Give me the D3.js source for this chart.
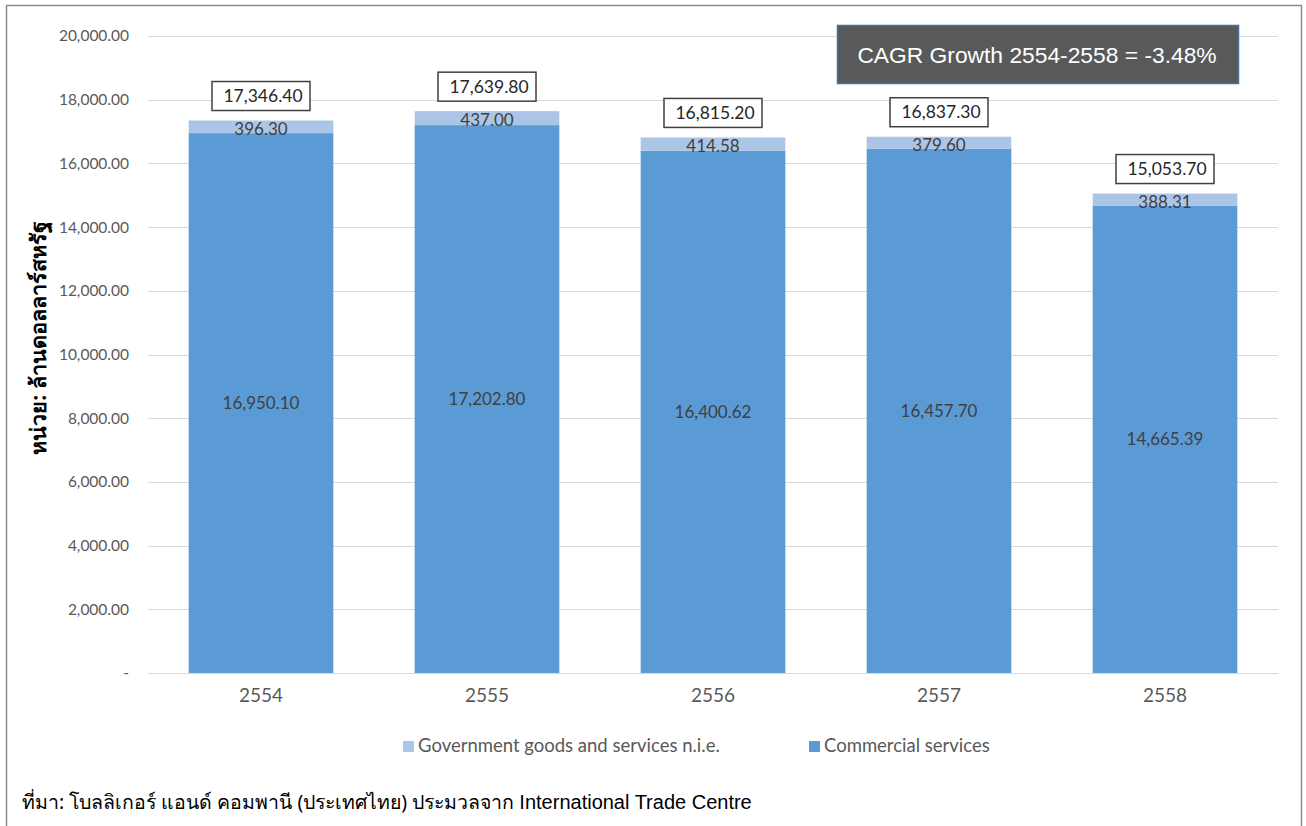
<!DOCTYPE html>
<html>
<head>
<meta charset="utf-8">
<script src="https://cdn.jsdelivr.net/npm/d3@7"></script>
<style>
  body { margin: 0; background: #fff; }
  svg { display: block; }
</style>
</head>
<body>
<svg id="chart" width="1306" height="826"></svg>
<script>
const width = 1306;
const height = 826;
const svg = d3.select("#chart");

// data
const years = ["2554", "2555", "2556", "2557", "2558"];
const govValues = [396.30, 437.00, 414.58, 379.60, 388.31];
const comValues = [16950.10, 17202.80, 16400.62, 16457.70, 14665.39];
const yTicks = [0, 2000, 4000, 6000, 8000, 10000, 12000, 14000, 16000, 18000, 20000];
const seriesNames = ["Government goods and services n.i.e.", "Commercial services"];
const cagrText = "CAGR Growth 2554-2558 = -3.48%";

const colGov = "#abc5e6";
const colCom = "#5b9bd5";
const numFont = "Lato, 'Open Sans', sans-serif";

const margin = { left: 148, right: 28, top: 36, bottom: 153 };
const x = d3.scaleBand().domain(years)
    .range([margin.left, width - margin.right])
    .paddingInner(0.36).paddingOuter(0.18);
const y = d3.scaleLinear().domain([0, 20000]).range([height - margin.bottom, margin.top]);

const fmt = d3.format(",.2f");

// outer frame
svg.append("rect")
    .attr("x", 6.5).attr("y", 5.5)
    .attr("width", 1295).attr("height", 830)
    .attr("fill", "none").attr("stroke", "#8c8c8c").attr("stroke-width", 1.5);

// gridlines
svg.append("g").selectAll("line")
    .data(yTicks)
    .enter().append("line")
    .attr("x1", margin.left).attr("x2", width - margin.right)
    .attr("y1", d => Math.round(y(d)) + 0.5).attr("y2", d => Math.round(y(d)) + 0.5)
    .attr("stroke", "#d9d9d9").attr("stroke-width", 1);

// y axis
const yAxis = svg.append("g")
    .attr("transform", `translate(${margin.left - 16},0)`)
    .call(d3.axisLeft(y).tickValues(yTicks).tickSize(0)
        .tickFormat(d => d === 0 ? "-" : fmt(d)));
yAxis.select(".domain").remove();
yAxis.selectAll("text")
    .attr("font-family", numFont).attr("font-size", 15.5)
    .attr("fill", "#595959");

// x axis
const xAxis = svg.append("g")
    .attr("transform", `translate(0,${y(0)})`)
    .call(d3.axisBottom(x).tickSize(0).tickPadding(16));
xAxis.select(".domain").remove();
xAxis.selectAll("text")
    .attr("font-family", numFont).attr("font-size", 19).attr("fill", "#595959");

// bars (stacked: commercial below, government on top)
const bars = svg.append("g");
years.forEach((yr, i) => {
    const c = comValues[i], g = govValues[i];
    bars.append("rect")
        .attr("x", x(yr)).attr("width", x.bandwidth())
        .attr("y", y(c)).attr("height", y(0) - y(c))
        .attr("fill", colCom);
    bars.append("rect")
        .attr("x", x(yr)).attr("width", x.bandwidth())
        .attr("y", y(c + g)).attr("height", y(c) - y(c + g))
        .attr("fill", colGov);
});

// labels
const labels = svg.append("g").attr("font-family", numFont).attr("text-anchor", "middle");
years.forEach((yr, i) => {
    const c = comValues[i], g = govValues[i], t = c + g;
    const cx = x(yr) + x.bandwidth() / 2;
    labels.append("text")
        .attr("x", cx).attr("y", y(c / 2)).attr("dy", "0.35em")
        .attr("font-size", 17).attr("fill", "#404040")
        .text(fmt(c));
    labels.append("text")
        .attr("x", cx).attr("y", y(c + g / 2) + 2).attr("dy", "0.35em")
        .attr("font-size", 17).attr("fill", "#404040")
        .text(fmt(g));
    // total in a box
    const by = y(t) - 10;
    labels.append("rect")
        .attr("x", cx - 49).attr("y", by - 29)
        .attr("width", 98).attr("height", 29)
        .attr("fill", "#fff").attr("stroke", "#404040").attr("stroke-width", 1.5);
    labels.append("text")
        .attr("x", cx + 2).attr("y", by - 14.5).attr("dy", "0.35em")
        .attr("font-size", 17.5).attr("fill", "#262626")
        .text(fmt(t));
});

// CAGR box
svg.append("rect")
    .attr("x", 837.5).attr("y", 25.5).attr("width", 401).attr("height", 58)
    .attr("fill", "#595959").attr("stroke", "#41719c").attr("stroke-width", 1.5);
svg.append("text")
    .attr("x", 1037).attr("y", 55).attr("dy", "0.35em")
    .attr("text-anchor", "middle")
    .attr("font-family", "'Liberation Sans', Arial, sans-serif").attr("font-size", 22.8)
    .attr("fill", "#fff")
    .text(cagrText);

// y axis title
svg.append("text")
    .attr("transform", "translate(46,338) rotate(-90)")
    .attr("text-anchor", "middle")
    .attr("font-family", "'Noto Sans', sans-serif").attr("font-size", 21.5)
    .attr("font-weight", "bold").attr("fill", "#000")
    .text("หน่วย: ล้านดอลลาร์สหรัฐ");

// legend
const legend = svg.append("g").attr("font-family", numFont).attr("font-size", 18.5).attr("fill", "#595959");
const legendX = [403, 809];
seriesNames.forEach((name, i) => {
    legend.append("rect")
        .attr("x", legendX[i]).attr("y", 741).attr("width", 11).attr("height", 11)
        .attr("fill", i === 0 ? colGov : colCom);
    legend.append("text")
        .attr("x", legendX[i] + 15).attr("y", 746).attr("dy", "0.35em")
        .text(name);
});

// source
const src = svg.append("text")
    .attr("x", 22).attr("y", 803).attr("dy", "0.35em")
    .attr("fill", "#000");
src.append("tspan")
    .attr("font-family", "'Noto Sans', sans-serif").attr("font-size", 19.5)
    .text("ที่มา: โบลลิเกอร์ แอนด์ คอมพานี (ประเทศไทย) ประมวลจาก ");
src.append("tspan")
    .attr("font-family", "'Liberation Sans', Arial, sans-serif").attr("font-size", 20)
    .text("International Trade Centre");
</script>
</body>
</html>
